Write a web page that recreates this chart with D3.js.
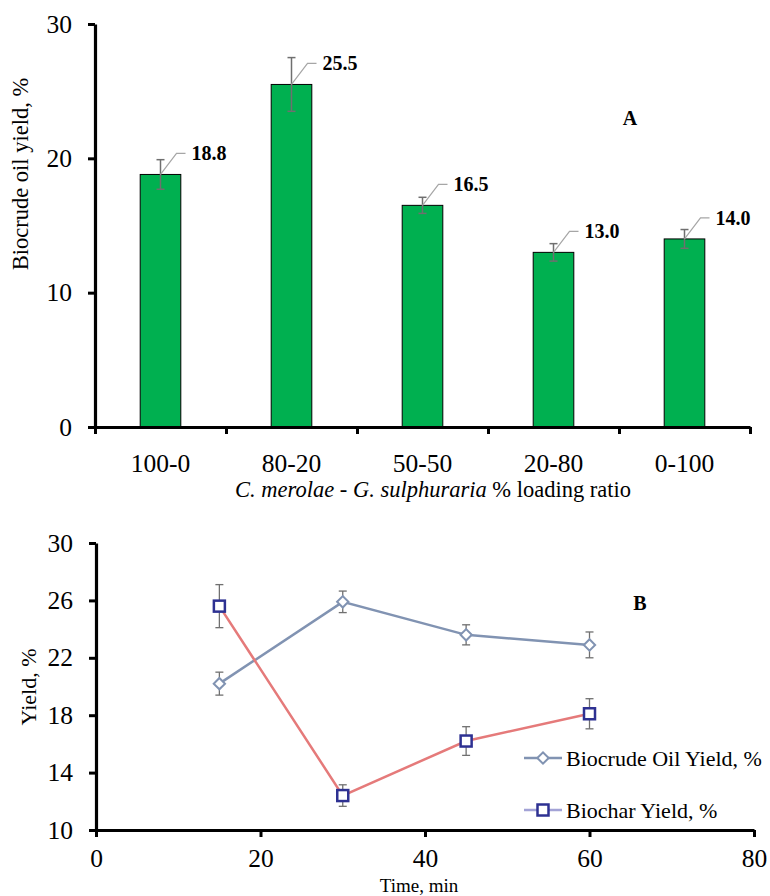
<!DOCTYPE html>
<html><head><meta charset="utf-8">
<script src="https://cdn.jsdelivr.net/npm/d3@7"></script>
<style>body{margin:0;background:#fff}svg{display:block;font-family:"Liberation Serif","Times New Roman",serif}</style>
</head><body><svg id="c" width="770" height="896"></svg>
<script>
// ---- Panel A data
const ratios = ["100-0","80-20","50-50","20-80","0-100"];
const oilYieldA = [18.8, 25.5, 16.5, 13.0, 14.0];
const oilErrA = [1.1, 2.0, 0.6, 0.65, 0.7];
const yTicksA = [0,10,20,30];
// ---- Panel B data
const times = [15, 30, 45, 60];
const oilYieldB = [20.2, 25.9, 23.6, 22.9];
const oilErrB = [0.8, 0.75, 0.7, 0.9];
const charYieldB = [25.6, 12.4, 16.2, 18.1];
const charErrB = [1.5, 0.75, 1.0, 1.05];
const xTicksB = [0,20,40,60,80];
const yTicksB = [10,14,18,22,26,30];
const seriesNames = ["Biocrude Oil Yield, %","Biochar Yield, %"];

const svg = d3.select("#c");
const tickFont = 25.5;
const serif = "Liberation Serif";

function styleAxis(g){
  g.attr("font-family", serif);
  g.select(".domain").attr("stroke","#000").attr("stroke-width",3.2);
  g.selectAll(".tick line").attr("stroke","#000").attr("stroke-width",3);
  g.selectAll(".tick text").attr("font-size",tickFont).attr("font-family",serif).attr("fill","#000");
}

// ================= Panel A =================
const xA = d3.scaleBand().domain(ratios).range([95,750]).paddingInner(0.69).paddingOuter(0.345);
const yA = d3.scaleLinear().domain([0,30]).range([427,24]);
const xEdge = d3.scaleLinear().domain([0,ratios.length]).range([95,750]);

const gA = svg.append("g");
gA.selectAll("rect.bar").data(oilYieldA).join("rect")
  .attr("x",(d,i)=>xA(ratios[i])).attr("width",xA.bandwidth())
  .attr("y",d=>yA(d)).attr("height",d=>yA(0)-yA(d))
  .attr("fill","#00B050").attr("stroke","#000").attr("stroke-width",1);
oilYieldA.forEach((v,i)=>{
  const cx = xA(ratios[i])+xA.bandwidth()/2, e=oilErrA[i];
  const g = gA.append("g").attr("stroke","#6f6f6f").attr("stroke-width",1.5);
  g.append("line").attr("x1",cx).attr("x2",cx).attr("y1",yA(v+e)).attr("y2",yA(v-e));
  g.append("line").attr("x1",cx-4).attr("x2",cx+4).attr("y1",yA(v+e)).attr("y2",yA(v+e));
  g.append("line").attr("x1",cx-4).attr("x2",cx+4).attr("y1",yA(v-e)).attr("y2",yA(v-e));
  const top = yA(v), ly = top-21;
  gA.append("polyline").attr("points",`${cx},${top} ${cx+16},${ly} ${cx+25},${ly}`)
    .attr("fill","none").attr("stroke","#a6a6a6").attr("stroke-width",1.2);
  gA.append("text").attr("x",cx+31).attr("y",ly).attr("dy","0.35em")
    .attr("font-size",20).attr("font-weight","bold").text(v.toFixed(1));
});
const axYA = gA.append("g").attr("transform","translate(95,0)")
  .call(d3.axisLeft(yA).tickValues(yTicksA).tickSize(7).tickSizeOuter(0).tickPadding(16));
styleAxis(axYA);
const axXA = gA.append("g").attr("transform","translate(0,427)")
  .call(d3.axisBottom(xEdge).tickValues(d3.range(ratios.length+1)).tickFormat("").tickSize(7).tickSizeOuter(0));
styleAxis(axXA);
gA.selectAll("text.cat").data(ratios).join("text").attr("class","cat")
  .attr("x",d=>xA(d)+xA.bandwidth()/2).attr("y",472).attr("text-anchor","middle")
  .attr("font-size",tickFont).text(d=>d);
const xtA = gA.append("text").attr("x",433).attr("y",497).attr("text-anchor","middle").attr("font-size",22.5);
xtA.append("tspan").attr("font-style","italic").text("C. merolae - G. sulphuraria");
xtA.append("tspan").text(" % loading ratio");
gA.append("text").attr("transform","translate(28,174) rotate(-90)").attr("text-anchor","middle")
  .attr("font-size",22.5).text("Biocrude oil yield, %");
gA.append("text").attr("x",630).attr("y",125).attr("text-anchor","middle").attr("font-size",20)
  .attr("font-weight","bold").text("A");

// ================= Panel B =================
const xB = d3.scaleLinear().domain([0,80]).range([96,754]);
const yB = d3.scaleLinear().domain([10,30]).range([830,543]);
const gB = svg.append("g");
const oilColor = "#8193B2", charLine = "#E57A7A", charMarker = "#2E3192", charLegendLine = "#A3A3D6";

const line = d3.line().x((d,i)=>xB(times[i])).y(d=>yB(d));
function errBars(vals, errs){
  vals.forEach((v,i)=>{
    const cx = xB(times[i]), e = errs[i];
    const g = gB.append("g").attr("stroke","#707070").attr("stroke-width",1.3);
    g.append("line").attr("x1",cx).attr("x2",cx).attr("y1",yB(v+e)).attr("y2",yB(v-e));
    g.append("line").attr("x1",cx-4).attr("x2",cx+4).attr("y1",yB(v+e)).attr("y2",yB(v+e));
    g.append("line").attr("x1",cx-4).attr("x2",cx+4).attr("y1",yB(v-e)).attr("y2",yB(v-e));
  });
}
errBars(oilYieldB, oilErrB);
errBars(charYieldB, charErrB);
gB.append("path").datum(oilYieldB).attr("d",line).attr("fill","none").attr("stroke",oilColor).attr("stroke-width",2.5);
gB.append("path").datum(charYieldB).attr("d",line).attr("fill","none").attr("stroke",charLine).attr("stroke-width",2.5);

const diamond = d3.symbol().type(d3.symbolSquare).size(64);
function drawDiamond(g,x,y){
  g.append("path").attr("d",diamond()).attr("transform",`translate(${x},${y}) rotate(45)`)
    .attr("fill","#fff").attr("stroke",oilColor).attr("stroke-width",2);
}
function drawSquare(g,x,y){
  g.append("rect").attr("x",x-5.5).attr("y",y-5.5).attr("width",11).attr("height",11)
    .attr("fill","#fff").attr("stroke",charMarker).attr("stroke-width",2.5);
}
oilYieldB.forEach((v,i)=>drawDiamond(gB,xB(times[i]),yB(v)));
charYieldB.forEach((v,i)=>drawSquare(gB,xB(times[i]),yB(v)));

const axYB = gB.append("g").attr("transform","translate(96,0)")
  .call(d3.axisLeft(yB).tickValues(yTicksB).tickSize(7).tickSizeOuter(0).tickPadding(16));
styleAxis(axYB);
const axXB = gB.append("g").attr("transform","translate(0,830)")
  .call(d3.axisBottom(xB).tickValues(xTicksB).tickSize(7).tickSizeOuter(0).tickPadding(12));
styleAxis(axXB);

gB.append("text").attr("x",419).attr("y",891.5).attr("text-anchor","middle").attr("font-size",19).text("Time, min");
gB.append("text").attr("transform","translate(36,687) rotate(-90)").attr("text-anchor","middle")
  .attr("font-size",22).text("Yield, %");
gB.append("text").attr("x",640).attr("y",610).attr("text-anchor","middle").attr("font-size",20)
  .attr("font-weight","bold").text("B");

const leg = gB.append("g");
[758, 810].forEach((ly,k)=>{
  leg.append("line").attr("x1",524).attr("x2",562).attr("y1",ly).attr("y2",ly)
    .attr("stroke", k===0?oilColor:charLegendLine).attr("stroke-width",2.5);
  if(k===0) drawDiamond(leg,543,ly); else drawSquare(leg,543,ly);
  leg.append("text").attr("x",566).attr("y",ly).attr("dy","0.35em").attr("font-size",22).text(seriesNames[k]);
});
</script></body></html>
